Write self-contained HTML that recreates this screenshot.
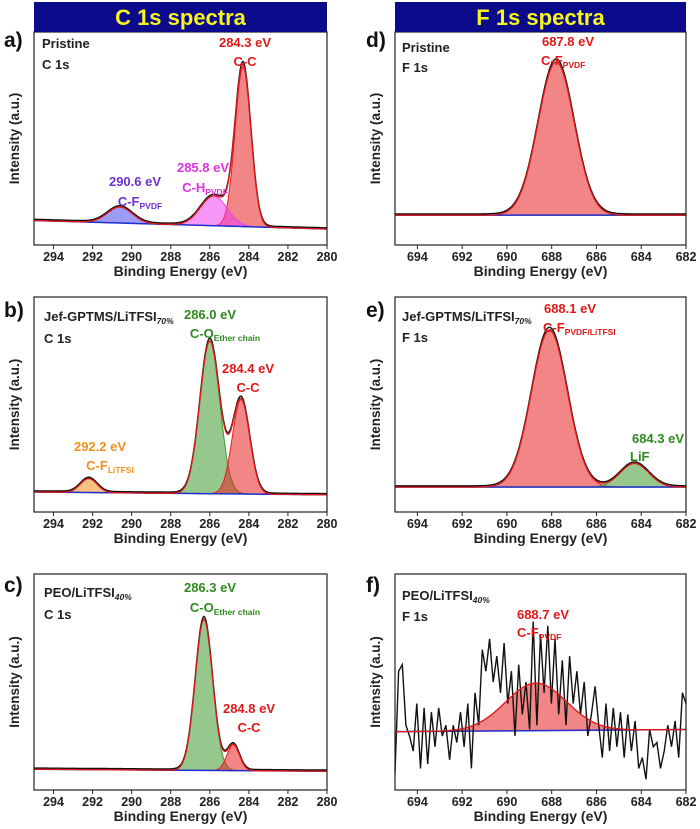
<!DOCTYPE html>
<html><head><meta charset="utf-8"><style>
body{margin:0;background:#fff}
svg{display:block;font-family:"Liberation Sans",Arial,sans-serif;font-weight:bold}
</style></head><body>
<svg id="fig" width="700" height="829" viewBox="0 0 700 829"></svg>
<script>
// ---------- data ----------
const cTicks=[294,292,290,288,286,284,282,280];
const fTicks=[694,692,690,688,686,684,682];
// panel a (C 1s pristine)
const aCenters=[284.3,285.8,290.6];
const aHeights=[0.75,0.14,0.075];
const aWidths=[0.95,1.6,1.5];
const aColors=['#e82020','#ee40ee','#4a4af0'];
const aBase=[0.115,0.075];
// panel b
const bCenters=[286.0,284.4,292.2];
const bHeights=[0.71,0.44,0.065];
const bWidths=[1.2,1.05,1.0];
const bColors=['#3f9a2f','#e82020','#f0901e'];
const bBase=[0.093,0.08];
// panel c
const cCenters=[286.3,284.8];
const cHeights=[0.70,0.12];
const cWidths=[1.05,0.75];
const cColors=['#3f9a2f','#e82020'];
const cBase=[0.096,0.087];
// panel d
const dCenters=[687.8];
const dHeights=[0.72];
const dWidths=[1.9];
const dColors=['#e82020'];
const dBase=[0.14,0.14];
// panel e
const eCenters=[688.1,684.3];
const eHeights=[0.73,0.11];
const eWidths=[1.9,1.5];
const eColors=['#e82020','#3f9a2f'];
const eBase=[0.116,0.116];
// panel f
const fCenters=[688.7];
const fHeights=[0.22];
const fWidths=[3.2];
const fColors=['#e82020'];
const fBase=[0.27,0.28];
const fRaw=[0.08,0.55,0.58,0.30,0.25,0.18,0.40,0.10,0.38,0.12,0.36,0.20,0.38,0.25,0.30,0.14,0.30,0.22,0.36,0.20,0.40,0.10,0.45,0.30,0.65,0.55,0.70,0.50,0.62,0.45,0.68,0.40,0.55,0.25,0.58,0.35,0.50,0.28,0.78,0.30,0.72,0.45,0.76,0.40,0.70,0.35,0.60,0.30,0.62,0.40,0.55,0.35,0.50,0.25,0.35,0.48,0.30,0.15,0.40,0.18,0.38,0.20,0.36,0.15,0.35,0.18,0.32,0.10,0.15,0.05,0.28,0.20,0.22,0.10,0.18,0.30,0.20,0.32,0.15,0.45,0.40];

const NS='http://www.w3.org/2000/svg';
const svg=document.getElementById('fig');
function mk(tag,attrs,parent){const e=document.createElementNS(NS,tag);for(const k in attrs)e.setAttribute(k,attrs[k]);(parent||svg).appendChild(e);return e;}
function txt(x,y,s,size,fill,anchor,parent){const t=mk('text',{x:x,y:y,'font-size':size,fill:fill,'text-anchor':anchor||'start'},parent);t.innerHTML=s;return t;}

function panel(name,box,xmin,xmax,ticks,centers,heights,widths,colors,base,raw){
  const g=mk('g',{});
  
  
  const X=v=>box.l+(xmin-v)/(xmin-xmax)*(box.r-box.l);
  const Y=v=>box.b-v*(box.b-box.t);
  const B=v=>base[0]+(base[1]-base[0])*(xmin-v)/(xmin-xmax);
  const gauss=(v,i)=>heights[i]*Math.exp(-4*Math.LN2*Math.pow((v-centers[i])/widths[i],2));
  const N=300, xs=[];
  for(let k=0;k<=N;k++)xs.push(xmin-(xmin-xmax)*k/N);
  centers.forEach((c,i)=>{
    let d='M'+X(xs[0])+','+Y(B(xs[0]));
    xs.forEach(v=>{d+=' L'+X(v).toFixed(1)+','+Y(B(v)+gauss(v,i)).toFixed(1);});
    for(let k=N;k>=0;k--)d+=' L'+X(xs[k]).toFixed(1)+','+Y(B(xs[k])).toFixed(1);
    const p=mk('path',{d:d+'Z',fill:colors[i],'fill-opacity':0.55,stroke:colors[i],'stroke-width':1},g);
    
    
  });
  const bl=mk('line',{x1:X(xmin),y1:Y(B(xmin)),x2:X(xmax),y2:Y(B(xmax)),stroke:'#2030d0','stroke-width':1.5},g);
  
  
  const env=v=>B(v)+centers.reduce((s,c,i)=>s+gauss(v,i),0);
  let de='';xs.forEach((v,k)=>{de+=(k?' L':'M')+X(v).toFixed(1)+','+Y(env(v)).toFixed(1);});
  let dr='';
  if(raw){raw.forEach((r,k)=>{const v=xmin-(xmin-xmax)*k/(raw.length-1);dr+=(k?' L':'M')+X(v).toFixed(1)+','+Y(r).toFixed(1);});}
  else{xs.forEach((v,k)=>{dr+=(k?' L':'M')+X(v).toFixed(1)+','+(Y(env(v)*1.01)-1).toFixed(1);});}
  const rl=mk('path',{d:dr,fill:'none',stroke:'#111','stroke-width':1.4},g);
  
  
  const el=mk('path',{d:de,fill:'none',stroke:'#e01818','stroke-width':1.3},g);
  
  
  const fr=mk('rect',{x:box.l,y:box.t,width:box.r-box.l,height:box.b-box.t,fill:'none',stroke:'#222','stroke-width':1.2},g);
  
  
  ticks.forEach(t=>{
    mk('line',{x1:X(t),y1:box.b,x2:X(t),y2:box.b+4,stroke:'#222'},g);
    const tl=txt(X(t),box.b+16,t,12.5,'#222','middle',g);
    
    
  });
  const xl=txt((box.l+box.r)/2,box.b+31,'Binding Energy (eV)',14,'#222','middle',g);
  
  
  const yl=mk('text',{x:0,y:0,'font-size':13.5,fill:'#222','text-anchor':'middle',transform:'translate('+(box.l-15)+','+((box.t+box.b)/2)+') rotate(-90)'},g);
  yl.textContent='Intensity (a.u.)';
  
  
}

const L={l:34,r:327},R={l:395,r:686};
const rows=[{t:32,b:245},{t:297,b:512},{t:574,b:790}];
panel('panel-a',{...L,...rows[0]},295,280,cTicks,aCenters,aHeights,aWidths,aColors,aBase);
panel('panel-b',{...L,...rows[1]},295,280,cTicks,bCenters,bHeights,bWidths,bColors,bBase);
panel('panel-c',{...L,...rows[2]},295,280,cTicks,cCenters,cHeights,cWidths,cColors,cBase);
panel('panel-d',{...R,...rows[0]},695,682,fTicks,dCenters,dHeights,dWidths,dColors,dBase);
panel('panel-e',{...R,...rows[1]},695,682,fTicks,eCenters,eHeights,eWidths,eColors,eBase);
panel('panel-f',{...R,...rows[2]},695,682,fTicks,fCenters,fHeights,fWidths,fColors,fBase,fRaw);

[[L,'C 1s spectra','c1s-banner'],[R,'F 1s spectra','f1s-banner']].forEach(([b,s,n])=>{
  const r=mk('rect',{x:b.l,y:2,width:b.r-b.l,height:30,fill:'#0a0a8a'});
  
  
  const t=txt((b.l+b.r)/2,25,s,22,'#f5f520','middle');
  
  
});
[['a)',4,47],['b)',4,317],['c)',4,592],['d)',366,47],['e)',366,317],['f)',366,592]].forEach(([s,x,y])=>{
  const t=txt(x,y,s,21,'#111');
  
  
});
const sub=(s)=>'<tspan font-size="8.5" dy="3">'+s+'</tspan>';
const ann=[
 [42,48,'Pristine','#222','start'],[42,69,'C 1s','#222','start'],
 [245,47,'284.3 eV','#e01818','middle'],[245,66,'C-C','#e01818','middle'],
 [203,172,'285.8 eV','#e030e0','middle'],[205,192,'C-H'+sub('PVDF'),'#e030e0','middle'],
 [135,186,'290.6 eV','#7030d0','middle'],[140,206,'C-F'+sub('PVDF'),'#7030d0','middle'],
 [44,321,'Jef-GPTMS/LiTFSI<tspan font-size="8.5" font-style="italic" dy="3">70%</tspan>','#222','start'],[44,343,'C 1s','#222','start'],
 [210,319,'286.0 eV','#2e8a1e','middle'],[225,338,'C-O'+sub('Ether chain'),'#2e8a1e','middle'],
 [248,373,'284.4 eV','#e01818','middle'],[248,392,'C-C','#e01818','middle'],
 [100,451,'292.2 eV','#f0901e','middle'],[110,470,'C-F'+sub('LiTFSI'),'#f0901e','middle'],
 [44,597,'PEO/LiTFSI<tspan font-size="8.5" font-style="italic" dy="3">40%</tspan>','#222','start'],[44,619,'C 1s','#222','start'],
 [210,592,'286.3 eV','#2e8a1e','middle'],[225,612,'C-O'+sub('Ether chain'),'#2e8a1e','middle'],
 [249,713,'284.8 eV','#e01818','middle'],[249,732,'C-C','#e01818','middle'],
 [402,52,'Pristine','#222','start'],[402,72,'F 1s','#222','start'],
 [568,46,'687.8 eV','#e01818','middle'],[541,65,'C-F'+sub('PVDF'),'#e01818','start'],
 [402,321,'Jef-GPTMS/LiTFSI<tspan font-size="8.5" font-style="italic" dy="3">70%</tspan>','#222','start'],[402,342,'F 1s','#222','start'],
 [570,313,'688.1 eV','#e01818','middle'],[543,332,'C-F'+sub('PVDF/LiTFSI'),'#e01818','start'],
 [658,443,'684.3 eV','#2e8a1e','middle'],[630,461,'LiF','#2e8a1e','start'],
 [402,600,'PEO/LiTFSI<tspan font-size="8.5" font-style="italic" dy="3">40%</tspan>','#222','start'],[402,621,'F 1s','#222','start'],
 [543,619,'688.7 eV','#e01818','middle'],[517,637,'C-F'+sub('PVDF'),'#e01818','start']
];
ann.forEach(([x,y,s,c,a])=>{
  const t=txt(x,y,s,13,c,a);
  
  
});
</script>
</body></html>
